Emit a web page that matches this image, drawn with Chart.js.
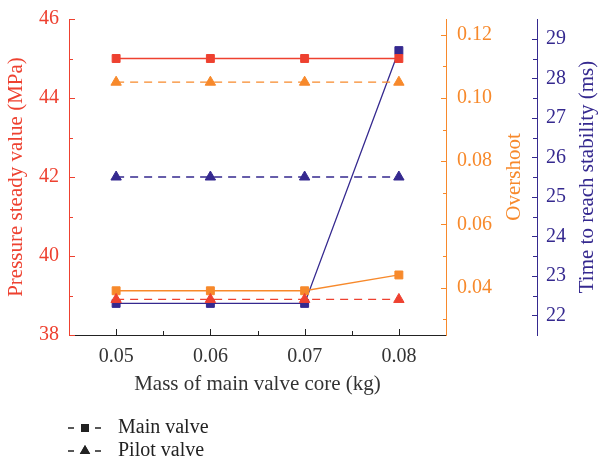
<!DOCTYPE html>
<html>
<head>
<meta charset="utf-8">
<script src="https://cdn.jsdelivr.net/npm/chart.js@4.4.1/dist/chart.umd.min.js"></script>
<style>
  html, body { margin: 0; padding: 0; background: #fff; }
  #wrap { width: 600px; height: 462px; }
</style>
</head>
<body>
<div id="wrap"><canvas id="chart" width="600" height="462"></canvas></div>
<script>
// Mass of the main valve core (kg)
const masses = [0.05, 0.06, 0.07, 0.08];

// Pressure steady value (MPa)
const pressureMain = [45, 45, 45, 45];
const pressurePilot = [38.9, 38.9, 38.9, 38.9];

// Overshoot
const overshootMain = [0.039, 0.039, 0.039, 0.044];
const overshootPilot = [0.105, 0.105, 0.105, 0.105];

// Time to reach stability (ms)
const timeMain = [22.3, 22.3, 22.3, 28.7];
const timePilot = [25.5, 25.5, 25.5, 25.5];

// Labelled and minor tick values for each axis
const xTicks = [0.05, 0.06, 0.07, 0.08];
const xMinor = [0.055, 0.065, 0.075];
const pressureTicks = [38, 40, 42, 44, 46];
const pressureMinor = [39, 41, 43, 45];
const overshootTicks = [0.04, 0.06, 0.08, 0.10, 0.12];
const overshootMinor = [0.03, 0.05, 0.07, 0.09, 0.11];
const timeTicks = [22, 23, 24, 25, 26, 27, 28, 29];
const timeMinor = [22.5, 23.5, 24.5, 25.5, 26.5, 27.5, 28.5];

const RED = '#ee4130';
const ORANGE = '#f7892b';
const BLUE = '#35298f';
const SERIF = '"Liberation Serif", "DejaVu Serif", serif';

const tickFont = { family: SERIF, size: 20 };
const titleFont = { family: SERIF, size: 21 };

function series(label, values, axis, color, dashed, marker) {
    return {
        label: label,
        data: values.map((v, i) => ({ x: masses[i], y: v })),
        yAxisID: axis,
        borderColor: color,
        backgroundColor: color,
        borderWidth: 1.3,
        borderDash: dashed ? [8, 6] : [],
        pointStyle: marker,
        pointRadius: marker === 'rect' ? 5.6 : 6,
        pointBorderWidth: 1,
        tension: 0
    };
}

function fixedTicks(values) {
    return scale => { scale.ticks = values.map(v => ({ value: v })); };
}

// fixed box size, and no extra room reserved for end labels
function fixSize(w, h) {
    return scale => {
        if (w) scale.width = w;
        if (h) scale.height = h;
        scale.paddingTop = 0;
        scale.paddingBottom = 0;
        scale.paddingLeft = 0;
        scale.paddingRight = 0;
    };
}

// Short inward tick marks, major and minor
function drawTickMarks(ctx, scale, values, len, color) {
    ctx.strokeStyle = color;
    ctx.lineWidth = 1;
    values.forEach(v => {
        const p = Math.round(scale.getPixelForValue(v)) + 0.5;
        ctx.beginPath();
        if (scale.isHorizontal()) {
            ctx.moveTo(p, scale.top);
            ctx.lineTo(p, scale.top - len);
        } else if (scale.position === 'left') {
            ctx.moveTo(scale.right, p);
            ctx.lineTo(scale.right + len, p);
        } else {
            ctx.moveTo(scale.left, p);
            ctx.lineTo(scale.left - len, p);
        }
        ctx.stroke();
    });
}

const axisDecor = {
    id: 'axisDecor',
    afterDraw(chart) {
        const ctx = chart.ctx;
        const s = chart.scales;
        ctx.save();
        drawTickMarks(ctx, s.x, xTicks, 6, '#222');
        drawTickMarks(ctx, s.x, xMinor, 4, '#222');
        drawTickMarks(ctx, s.y, pressureTicks, 6, RED);
        drawTickMarks(ctx, s.y, pressureMinor, 4, RED);
        drawTickMarks(ctx, s.y1, overshootTicks, 5, ORANGE);
        drawTickMarks(ctx, s.y1, overshootMinor, 3, ORANGE);
        drawTickMarks(ctx, s.y2, timeTicks, 5, BLUE);
        drawTickMarks(ctx, s.y2, timeMinor, 4, BLUE);

        // right-hand axis titles, reading bottom to top
        const midY = (chart.chartArea.top + chart.chartArea.bottom) / 2;
        [[s.y1, 'Overshoot', ORANGE, 68], [s.y2, 'Time to reach stability (ms)', BLUE, 50]].forEach(([scale, text, color, off]) => {
            ctx.save();
            ctx.translate(scale.left + off, midY);
            ctx.rotate(-Math.PI / 2);
            ctx.fillStyle = color;
            ctx.font = '21px ' + SERIF;
            ctx.textAlign = 'center';
            ctx.textBaseline = 'middle';
            ctx.fillText(text, 0, 0);
            ctx.restore();
        });

        // legend: marker between two dashes, then the label
        const rows = [['Main valve', 'rect', 428], ['Pilot valve', 'triangle', 451]];
        rows.forEach(([text, marker, y]) => {
            ctx.strokeStyle = '#222';
            ctx.fillStyle = '#222';
            ctx.lineWidth = 1.3;
            ctx.beginPath();
            ctx.moveTo(68, y); ctx.lineTo(74, y);
            ctx.moveTo(95, y); ctx.lineTo(101, y);
            ctx.stroke();
            Chart.helpers.drawPoint(ctx, { pointStyle: marker, radius: marker === 'rect' ? 5.6 : 6, borderWidth: 0 }, 85, y);
            ctx.fill();
            ctx.font = '20px ' + SERIF;
            ctx.textAlign = 'left';
            ctx.textBaseline = 'middle';
            ctx.fillText(text, 118, y);
        });
        ctx.restore();
    }
};

new Chart(document.getElementById('chart'), {
    type: 'line',
    data: {
        datasets: [
            series('Main valve', pressureMain, 'y', RED, false, 'rect'),
            series('Pilot valve', pressurePilot, 'y', RED, true, 'triangle'),
            series('Main valve', overshootMain, 'y1', ORANGE, false, 'rect'),
            series('Pilot valve', overshootPilot, 'y1', ORANGE, true, 'triangle'),
            series('Main valve', timeMain, 'y2', BLUE, false, 'rect'),
            series('Pilot valve', timePilot, 'y2', BLUE, true, 'triangle')
        ]
    },
    options: {
        responsive: false,
        animation: false,
        events: [],
        layout: { padding: { top: 19, left: 0, right: 0, bottom: 57 } },
        plugins: {
            legend: { display: false },
            tooltip: { enabled: false }
        },
        scales: {
            x: {
                type: 'linear',
                min: 0.045,
                max: 0.085,
                afterBuildTicks: fixedTicks(xTicks),
                afterFit: fixSize(0, 70),
                grid: { display: false, drawTicks: false },
                border: { color: '#222', width: 1 },
                ticks: { color: '#333', font: tickFont, padding: 10, maxRotation: 0, callback: v => v.toFixed(2) },
                title: { display: true, text: 'Mass of main valve core (kg)', color: '#333', font: titleFont, padding: { top: 4, bottom: 8 } }
            },
            y: {
                position: 'left',
                min: 38,
                max: 46,
                afterBuildTicks: fixedTicks(pressureTicks),
                afterFit: fixSize(69, 0),
                grid: { display: false, drawTicks: false },
                border: { color: RED, width: 1 },
                ticks: { color: RED, font: tickFont, padding: 10 },
                title: { display: true, text: 'Pressure steady value (MPa)', color: RED, font: titleFont, padding: 4 }
            },
            y1: {
                position: 'right',
                weight: 1,
                min: 0.025,
                max: 0.125,
                afterBuildTicks: fixedTicks(overshootTicks),
                afterFit: fixSize(91, 0),
                grid: { display: false, drawTicks: false },
                border: { color: ORANGE, width: 1 },
                ticks: { color: ORANGE, font: tickFont, padding: 11, callback: v => v.toFixed(2) }
            },
            y2: {
                position: 'right',
                weight: 2,
                min: 21.5,
                max: 29.5,
                afterBuildTicks: fixedTicks(timeTicks),
                afterFit: fixSize(63, 0),
                grid: { display: false, drawTicks: false },
                border: { color: BLUE, width: 1 },
                ticks: { color: BLUE, font: tickFont, padding: 9 }
            }
        }
    },
    plugins: [axisDecor]
});
</script>
</body>
</html>
